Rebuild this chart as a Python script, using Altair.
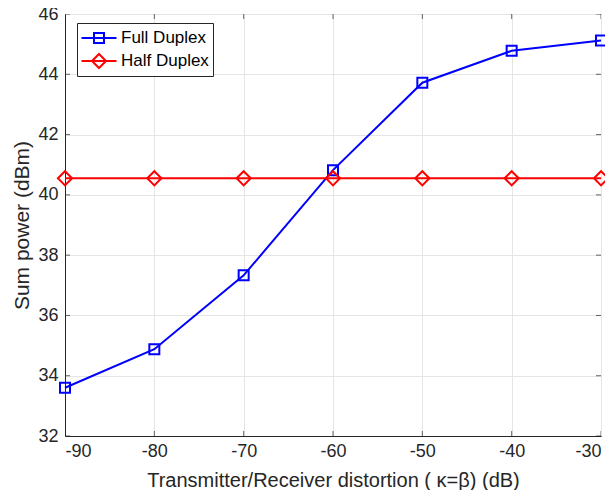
import altair as alt
import pandas as pd

# values
distortion = [-90, -80, -70, -60, -50, -40, -30]
full_duplex = [33.6, 34.88, 37.33, 40.82, 43.72, 44.78, 45.12]
half_duplex = [40.55, 40.55, 40.55, 40.55, 40.55, 40.55, 40.55]
series_names = ["Full Duplex", "Half Duplex"]
series_colors = ["#0000FF", "#FF0000"]
x_ticks = [-90, -80, -70, -60, -50, -40, -30]
y_ticks = [32, 34, 36, 38, 40, 42, 44, 46]

df = pd.concat([
    pd.DataFrame({"x": distortion, "y": full_duplex, "series": series_names[0]}),
    pd.DataFrame({"x": distortion, "y": half_duplex, "series": series_names[1]}),
])

FONT = "Liberation Sans"
TXT = "#262626"

x_enc = alt.X("x:Q", scale=alt.Scale(domain=[-90, -30], nice=False),
              axis=alt.Axis(values=x_ticks, title="Transmitter/Receiver distortion ( κ=β) (dB)",
                            labelExpr="'' + datum.value",
                            labelFontSize=18, titleFontSize=20, labelPadding=6, titlePadding=10,
                            tickSize=0, grid=True))
y_enc = alt.Y("y:Q", scale=alt.Scale(domain=[32, 46], nice=False, zero=False),
              axis=alt.Axis(values=y_ticks, title="Sum power (dBm)",
                            labelExpr="'' + datum.value",
                            labelFontSize=18, titleFontSize=21, labelPadding=7, titlePadding=5,
                            tickSize=0, grid=True))

color_scale = alt.Scale(domain=series_names, range=series_colors)

base = alt.Chart(df)

lines = base.mark_line(strokeWidth=2).encode(
    x=x_enc, y=y_enc,
    color=alt.Color("series:N", scale=color_scale, legend=None),
)

points = base.mark_point(filled=False, strokeWidth=2, opacity=1).encode(
    x="x:Q", y="y:Q",
    color=alt.Color("series:N", scale=color_scale, legend=None),
    shape=alt.Shape("series:N", scale=alt.Scale(domain=series_names, range=["square", "diamond"]), legend=None),
    size=alt.Size("series:N", scale=alt.Scale(domain=series_names, range=[100, 200]), legend=None),
)

# legend only: line through marker symbols (symbol box 20px, path reaches past it)
legend_paths = [
    "M-1.75,0H1.75M-0.5,-0.5H0.5V0.5H-0.5Z",
    "M-1.75,0H1.75M-0.7,0L0,-0.7L0.7,0L0,0.7Z",
]
legend_cfg = alt.Legend(
    title=None, orient="none", legendX=12, legendY=9,
    symbolSize=400, symbolStrokeWidth=2, symbolOffset=7,
    labelFontSize=17, labelFont=FONT, labelColor="#000000",
    labelOffset=11, rowPadding=3, labelExpr="datum.label + '  '",
    strokeColor="#262626", fillColor="#FFFFFF", padding=4,
)
legend_layer = base.transform_filter("false").mark_point(filled=False, strokeWidth=2, opacity=1).encode(
    x="x:Q", y="y:Q",
    color=alt.Color("series:N", scale=color_scale, legend=legend_cfg),
    shape=alt.Shape("series:N", scale=alt.Scale(domain=series_names, range=legend_paths), legend=legend_cfg),
)

# inward ticks on all four sides
tick_color = "#262626"
xt = pd.DataFrame({"x": x_ticks})
yt = pd.DataFrame({"y": y_ticks})
ticks_bottom = alt.Chart(xt).mark_tick(color=tick_color, size=10, thickness=1, orient="vertical", clip=True).encode(
    x="x:Q", y=alt.datum(32))
ticks_top = alt.Chart(xt).mark_tick(color=tick_color, size=10, thickness=1, orient="vertical", clip=True).encode(
    x="x:Q", y=alt.datum(46))
ticks_left = alt.Chart(yt).mark_tick(color=tick_color, size=10, thickness=1, orient="horizontal", clip=True).encode(
    y="y:Q", x=alt.datum(-90))
ticks_right = alt.Chart(yt).mark_tick(color=tick_color, size=10, thickness=1, orient="horizontal", clip=True).encode(
    y="y:Q", x=alt.datum(-30))

chart = alt.layer(
    lines, points, legend_layer, ticks_bottom, ticks_top, ticks_left, ticks_right
).resolve_scale(
    shape="independent", size="independent", color="independent"
).properties(
    width=536, height=422,
    autosize=alt.AutoSizeParams(type="none"),
    padding={"left": 57, "top": 6, "right": 4, "bottom": 54},
).configure(
    font=FONT,
).configure_axis(
    labelFont=FONT, titleFont=FONT, labelColor=TXT, titleColor=TXT,
    titleFontWeight="normal", gridColor="#E5E5E5", gridWidth=1,
    domainColor=TXT, domainWidth=1,
).configure_view(
    stroke=TXT, strokeWidth=1,
)

chart.save("out.html", embed_options={"renderer": "svg", "actions": False})
